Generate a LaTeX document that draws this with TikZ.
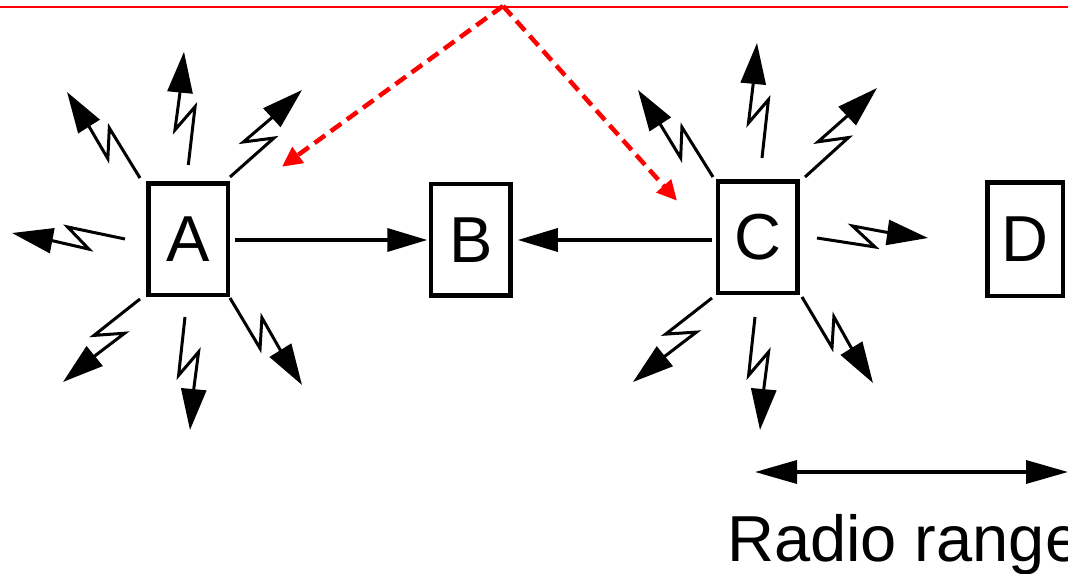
\documentclass[tikz,border=0pt]{standalone}
\usepackage{fontspec}
\setmainfont{Liberation Sans}
\usetikzlibrary{arrows.meta,calc}
\tikzset{
  station/.style={draw=black, line width=4.5pt, minimum width=79.5pt, minimum height=111.5pt, inner sep=0pt, font=\fontsize{65}{70}\selectfont},
  boltline/.style={draw=black, line width=3pt, line join=miter, -{Triangle[length=41pt,width=25pt]}},
  link/.style={draw=black, line width=3.5pt, -{Triangle[length=40pt,width=23pt]}},
  rangearrow/.style={draw=black, line width=3.5pt, {Triangle[length=42pt,width=23pt]}-{Triangle[length=42pt,width=23pt]}},
  reddash/.style={draw=red, line width=4.5pt, dash pattern=on 13pt off 7pt, -{Triangle[length=20pt,width=19pt]}},
}
\newcommand\lbolt[3]{%
  \coordinate (#1-s) at (#2);
  \coordinate (#1-t) at (#3);
  \draw[boltline] (#1-s) -- ($(#1-s)!58.7pt!-8.8:(#1-t)$) -- ($(#1-s)!37.5pt!18.7:(#1-t)$) -- ($(#1-t)!41.4pt!-7.8:(#1-s)$) -- (#1-t);
}
\begin{document}
\begin{tikzpicture}[x=1pt,y=1pt]
\useasboundingbox (0,0) rectangle (1068,573);
% top red line
\coordinate (tl) at (0,566);
\coordinate (tr) at (1068,566);
\draw[red, line width=1.8pt] (tl) -- (tr);
% stations
\node[station] (A) at (188.3,333.7) {A};
\node[station] (B) at (470.8,333) {B};
\node[station] (C) at (757.5,335.8) {C};
\node[station, minimum width=75.5pt, minimum height=113.5pt] (D) at (1025,333.8) {D};
% links
\coordinate (ab) at (235,333);
\coordinate (cb) at (712,333);
\draw[link] (ab) -- ([xshift=-1.5pt]ab -| B.west);
\draw[link] (cb) -- ([xshift=5pt]cb -| B.east);
% bolts around A
\lbolt{an}{188.3,408}{184,521.3}
\lbolt{ane}{230,396}{302,483}
\lbolt{anw}{140,395}{67,481}
\lbolt{aw}{125,334}{12,340}
\lbolt{asw}{140,274}{63,191}
\lbolt{as}{185,256}{190,143}
\lbolt{ase}{230,275}{302,188}
% bolts around C
\lbolt{cn}{762,415}{757,530}
\lbolt{cne}{805,396}{877,485}
\lbolt{cnw}{713,396}{638,483}
\lbolt{ce}{817,335}{928,335}
\lbolt{csw}{712,275}{633,191}
\lbolt{cs}{755,256}{760,143}
\lbolt{cse}{802,276}{873,190}
% red dashed arrows
\coordinate (apex) at (503,567);
\coordinate (ra) at (282,406.3);
\coordinate (rc) at (677,372.3);
\draw[reddash] (apex) -- (ra);
\draw[reddash] (apex) -- (rc);
% radio range
\coordinate (rl) at (755,101);
\coordinate (rr) at (1068,101);
\draw[rangearrow] (rl) -- (rr);
\node[anchor=base west, inner sep=0pt, font=\fontsize{65}{70}\selectfont] (rt) at (727,11.3) {Radio range};
\end{tikzpicture}
\end{document}
